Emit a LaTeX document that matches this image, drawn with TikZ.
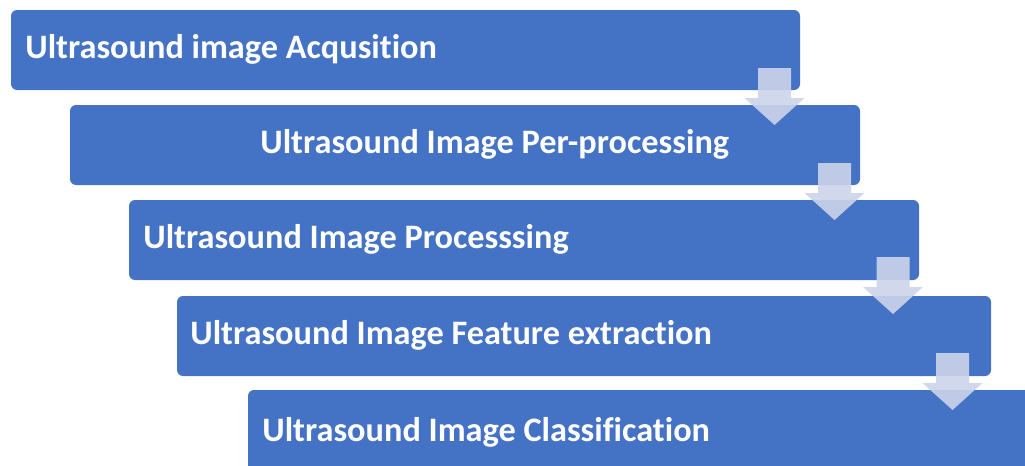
\documentclass[tikz,border=0pt]{standalone}
\usepackage{fontspec}
\setmainfont{Carlito}[Ligatures={NoCommon}]
\definecolor{boxblue}{HTML}{4472C4}
\definecolor{arrowfill}{HTML}{CDD4EA}
\tikzset{
  procbox/.style={fill=boxblue, draw=none, rounded corners=3pt, inner sep=0pt},
  lbl/.style={text=white, font=\fontsize{17.15}{20}\selectfont\bfseries, inner sep=0pt, anchor=base west},
  downarrow/.style={fill=arrowfill, fill opacity=0.9, draw=none}
}
\newcommand{\pbox}[5]{%
  \node[procbox, minimum width={(#4-#2)*0.5pt}, minimum height={(#5-#3)*0.5pt}]
    (#1) at ({(#2+#4)/2},{(#3+#5)/2}) {};}
\newcommand{\procarrow}[3]{% name, center x, top y
  \coordinate (#1) at (#2,#3);
  \fill[downarrow] ($(#1)+(-16.5,0)$) -- ($(#1)+(16.5,0)$) -- ($(#1)+(16.5,30)$)
    -- ($(#1)+(30,30)$) -- ($(#1)+(0,57)$) -- ($(#1)+(-30,30)$) -- ($(#1)+(-16.5,30)$) -- cycle;}
\usetikzlibrary{calc}
\begin{document}
\begin{tikzpicture}[x=0.5pt,y=-0.5pt]
\useasboundingbox (0,0) rectangle (1025,466);
\clip (0,0) rectangle (1025,466);
\pbox{b1}{11}{10}{800}{90}
\pbox{b2}{70}{105}{860}{185}
\pbox{b3}{129}{200}{919}{280}
\pbox{b4}{177}{296}{991}{376}
\pbox{b5}{248}{390}{1045}{490}
\node[lbl] (t1) at (25,59) {Ultrasound image Acqusition};
\node[lbl] (t2) at (260,154) {Ultrasound Image Per-processing};
\node[lbl] (t3) at (143,249) {Ultrasound Image Processsing};
\node[lbl] (t4) at (190,344) {Ultrasound Image Feature extraction};
\node[lbl] (t5) at (262,441) {Ultrasound Image Classification};
\procarrow{a1}{774.5}{68}
\procarrow{a2}{834.5}{163}
\procarrow{a3}{893}{257}
\procarrow{a4}{952.5}{353}
\end{tikzpicture}
\end{document}
